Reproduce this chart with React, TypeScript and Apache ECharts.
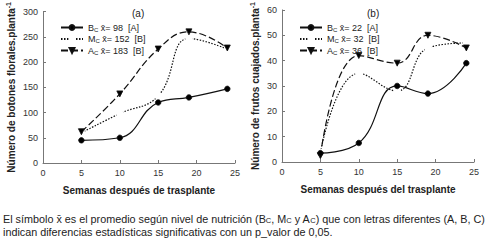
import React, { useEffect, useRef } from "react";
import * as echarts from "echarts";

const weeks = [5, 10, 15, 19, 24];

const floresB = [45, 50, 120, 130, 147];
const floresM = [60, 98, 133, 247, 226];
const floresA = [62, 137, 226, 260, 228];

const frutosB = [3.5, 7.5, 30, 27, 39];
const frutosM = [3.8, 35, 28, 45, 47];
const frutosA = [2.5, 42, 39, 50, 45];

const legendA = ["B|98|[A]", "M|152|[B]", "A|183|[B]"];
const legendB = ["B|22|[A]", "M|32|[B]", "A|36|[B]"];

const caption1 = "El símbolo x̄ es el promedio según nivel de nutrición (B{s|C}, M{s|C} y A{s|C}) que con letras diferentes (A, B, C)";
const caption2 = "indican diferencias estadísticas significativas con un p_valor de 0,05.";

const FONT = "Liberation Sans, Arial, sans-serif";

function pairs(vals: number[]) {
  return weeks.map((w, i) => [w, vals[i]]);
}

export default function App() {
  const ref = useRef<HTMLDivElement>(null);
  useEffect(() => {
    if (!ref.current) return;
    const chart = echarts.init(ref.current, null, { renderer: "svg" });

    const styleOf = (k: string) => {
      if (k === "B")
        return { symbol: "circle", symbolSize: 5.5, lineType: "solid", fill: "#000", rot: 0 };
      if (k === "M")
        return { symbol: "emptyCircle", symbolSize: 5.5, lineType: [1.5, 1.5], fill: "#fff", rot: 0 };
      return { symbol: "triangle", symbolSize: 6, lineType: [7, 3], fill: "#000", rot: 180 };
    };

    const mkSeries = (name: string, idx: number, vals: number[], k: string) => {
      const s = styleOf(k);
      return {
        name,
        type: "line",
        xAxisIndex: idx,
        yAxisIndex: idx,
        data: pairs(vals),
        smooth: 0.45,
        symbol: s.symbol,
        symbolSize: s.symbolSize,
        symbolRotate: s.rot,
        showAllSymbol: true,
        lineStyle: { color: "#111", width: 1.2, type: s.lineType },
        itemStyle: { color: s.fill, borderColor: "#111", borderWidth: 0.8 },
        z: k === "B" ? 3 : 2,
      };
    };

    const legendFmt = (name: string) => {
      const [k, v, g] = name.split("|");
      return `{n|${k}}{s|C}{n| x̄= ${v}  ${g}}`;
    };

    const legendRich = {
      n: { fontSize: 9, fontFamily: FONT, color: "#222" },
      s: { fontSize: 6, fontFamily: FONT, color: "#222", verticalAlign: "bottom", padding: [4, 0, 0, 0] },
    };

    const axisCommon = {
      axisLine: { lineStyle: { color: "#777", width: 1 } },
      axisTick: { inside: true, length: 3, lineStyle: { color: "#777" } },
      splitLine: { show: false },
      axisLabel: { fontSize: 9, fontFamily: FONT, color: "#333", margin: 5 },
    };

    const xName = (t: string) => ({
      name: t,
      nameLocation: "middle",
      nameGap: 22,
      nameTextStyle: { fontSize: 10, fontWeight: "bold", fontFamily: FONT, color: "#222" },
    });

    const yNameRich = {
      n: { fontSize: 10, fontWeight: "bold", fontFamily: FONT, color: "#222" },
      sup: { fontSize: 7, fontWeight: "bold", fontFamily: FONT, color: "#222", verticalAlign: "top", padding: [0, 0, 5, 0] },
    };

    const legendBase = {
      orient: "vertical",
      itemWidth: 22,
      itemHeight: 6,
      itemGap: 2,
      formatter: legendFmt,
      textStyle: { rich: legendRich, fontSize: 9 },
    };

    const option = {
      animation: false,
      grid: [
        { left: 43, top: 8, width: 192, height: 155 },
        { left: 282, top: 8, width: 192, height: 154 },
      ],
      xAxis: [0, 1].map((i) => ({
        type: "value",
        gridIndex: i,
        min: 0,
        max: 25,
        interval: 5,
        ...axisCommon,
        ...xName(i === 0 ? "Semanas después de trasplante" : "Semanas después del trasplante"),
      })),
      yAxis: [
        {
          type: "value",
          gridIndex: 0,
          min: 0,
          max: 300,
          interval: 50,
          ...axisCommon,
          name: "{n|Número de botones florales.planta}{sup|-1}",
          nameLocation: "middle",
          nameGap: 26,
          nameTextStyle: { rich: yNameRich },
        },
        {
          type: "value",
          gridIndex: 1,
          min: 0,
          max: 60,
          interval: 10,
          ...axisCommon,
          name: "{n|Número de frutos cuajados.planta}{sup|-1}",
          nameLocation: "middle",
          nameGap: 21,
          nameTextStyle: { rich: yNameRich },
        },
      ],
      legend: [
        { ...legendBase, data: legendA, left: 55, top: 18 },
        { ...legendBase, data: legendB, left: 294, top: 18 },
      ],
      graphic: [
        {
          type: "text",
          left: 132,
          top: 8,
          style: { text: "(a)", fontSize: 10, fontFamily: FONT, fill: "#222" },
        },
        {
          type: "text",
          left: 367,
          top: 8,
          style: { text: "(b)", fontSize: 10, fontFamily: FONT, fill: "#222" },
        },
        {
          type: "text",
          left: 3,
          top: 213,
          style: {
            text: caption1,
            fontSize: 10.8,
            fontFamily: FONT,
            fill: "#222",
            rich: {
              s: { fontSize: 7.5, fontFamily: FONT, fill: "#222", padding: [3, 0, 0, 0] },
            },
          },
        },
        {
          type: "text",
          left: 3,
          top: 226,
          style: { text: caption2, fontSize: 10.8, fontFamily: FONT, fill: "#222" },
        },
      ],
      series: [
        mkSeries(legendA[0], 0, floresB, "B"),
        mkSeries(legendA[1], 0, floresM, "M"),
        mkSeries(legendA[2], 0, floresA, "A"),
        mkSeries(legendB[0], 1, frutosB, "B"),
        mkSeries(legendB[1], 1, frutosM, "M"),
        mkSeries(legendB[2], 1, frutosA, "A"),
      ],
    };

    chart.setOption(option as any);
    return () => chart.dispose();
  }, []);

  return (
    <div
      ref={ref}
      style={{ position: "fixed", left: 0, top: 0, width: 493, height: 240, background: "#fff" }}
    />
  );
}
